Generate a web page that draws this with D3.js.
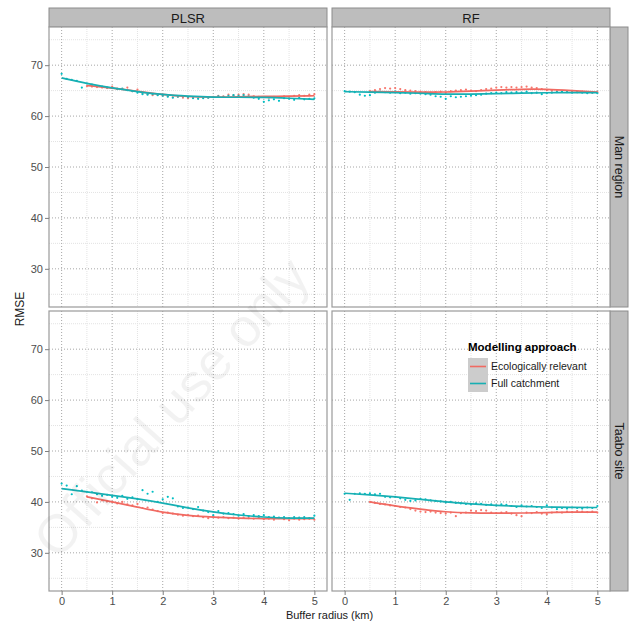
<!DOCTYPE html>
<html><head><meta charset="utf-8">
<script src="https://cdn.jsdelivr.net/npm/d3@7"></script>
<style>body{margin:0;background:#fff}svg{display:block}</style>
</head><body><svg id="c" width="632" height="624"></svg>
<script>
// ---- data ----
const methods = ["PLSR", "RF"];
const regions = ["Man region", "Taabo site"];
const seriesNames = ["Ecologically relevant", "Full catchment"];
const xTicks = [0, 1, 2, 3, 4, 5];
const yTicks = [30, 40, 50, 60, 70];
const xFull = d3.range(0, 51).map(i => i / 10);      // 0 .. 5 by 0.1
const xEco = d3.range(5, 51).map(i => i / 10);       // 0.5 .. 5 by 0.1
const xSmoothFull = d3.range(0, 11).map(i => i / 2);
const xSmoothEco = d3.range(1, 11).map(i => i / 2);

// points: Full catchment
const fullPlsrMan = [68.3,67.3,67.1,66.9,65.6,66.4,66.2,65.9,65.8,65.6,65.5,65.3,65.4,65.1,64.9,64.6,64.3,64.2,64.3,64.1,64.0,63.8,63.6,63.8,63.9,63.7,63.5,63.4,63.5,63.6,63.7,63.9,63.8,64.0,64.1,64.0,64.1,63.9,63.6,63.4,62.8,63.1,63.3,63.0,63.5,63.4,63.2,63.6,63.3,63.4,63.5];
const fullRfMan = [64.9,64.8,64.7,64.2,64.0,64.1,64.6,64.8,64.7,64.6,64.8,64.5,64.6,64.4,64.5,64.4,64.3,64.2,63.9,63.8,63.4,63.9,63.7,63.8,63.9,64.0,64.1,64.2,64.4,64.5,64.6,64.5,64.7,64.6,64.7,64.6,64.8,64.5,64.6,64.3,64.5,64.6,64.7,64.8,64.7,64.6,64.7,64.6,64.5,64.6,64.5];
const fullPlsrTaabo = [43.6,43.2,41.5,43.1,42.2,42.0,41.9,41.5,41.2,41.4,41.0,40.8,41.2,40.6,40.9,40.5,42.3,41.6,42.0,40.0,40.5,41.0,40.7,39.1,38.8,38.9,38.6,39.0,38.3,38.0,37.4,38.2,37.7,37.8,37.6,37.3,37.6,37.2,37.4,37.2,37.4,37.0,37.1,36.9,37.0,36.8,37.0,36.9,37.0,36.8,37.3];
const fullRfTaabo = [41.6,40.4,41.6,41.7,41.6,41.7,41.5,41.6,41.0,40.9,41.0,40.7,40.4,40.2,40.3,40.6,40.5,40.3,40.2,40.1,39.9,40.0,39.8,39.7,39.6,39.5,39.7,39.6,39.4,39.5,39.3,39.5,39.4,39.2,39.0,39.3,39.1,39.2,39.0,38.8,39.3,38.9,38.6,38.8,38.7,38.9,38.8,38.7,38.9,38.8,39.2];
// points: Ecologically relevant
const ecoPlsrMan = [65.9,65.8,65.7,65.6,65.5,65.8,65.4,65.3,65.6,64.9,65.2,64.5,64.3,64.1,64.2,64.0,63.9,63.7,63.8,63.6,63.5,63.6,63.5,63.7,63.6,63.8,64.0,63.9,64.2,64.1,64.2,64.3,64.2,63.9,63.8,63.7,63.6,63.8,63.7,63.9,63.8,64.0,64.1,64.0,64.2,64.3];
const ecoRfMan = [64.9,65.1,65.3,65.5,65.4,65.5,65.3,65.1,65.0,64.9,64.8,64.7,64.6,64.7,64.8,64.6,64.9,65.0,65.1,65.2,65.0,64.9,65.1,65.3,65.4,65.6,65.7,65.6,65.7,65.6,65.7,65.8,65.6,65.5,65.3,65.1,65.0,64.9,64.8,64.9,64.8,64.7,64.8,64.7,64.6,64.7];
const ecoPlsrTaabo = [41.1,40.7,39.9,40.3,40.1,40.0,39.7,40.0,39.5,39.3,39.6,38.8,38.9,38.5,38.2,37.8,37.9,37.7,37.5,37.3,37.4,37.2,37.3,37.0,36.8,37.1,36.9,37.0,36.8,36.9,36.7,36.9,36.8,36.7,36.9,36.6,36.7,36.5,36.8,36.6,36.4,36.7,36.5,36.6,36.7,36.5];
const ecoRfTaabo = [40.0,39.8,39.6,39.5,39.3,39.2,39.0,38.9,38.6,38.3,38.1,38.0,38.1,37.9,37.8,37.7,37.9,37.2,37.8,37.9,38.3,38.2,38.4,38.3,37.9,37.8,37.9,38.0,37.7,37.4,37.2,37.9,37.8,38.0,37.7,37.6,37.9,38.0,37.9,38.1,38.0,38.2,38.1,38.0,38.1,37.9];
// smoothed fits (loess) read at 0.5 km steps
const smFullPlsrMan = [67.5,66.4,65.5,64.8,64.2,63.9,63.7,63.7,63.7,63.5,63.3];
const smFullRfMan = [64.8,64.7,64.6,64.5,64.3,64.3,64.4,64.5,64.6,64.6,64.6];
const smFullPlsrTaabo = [42.6,42.0,41.3,40.6,39.8,38.8,38.0,37.4,37.0,36.8,36.8];
const smFullRfTaabo = [41.7,41.4,41.0,40.5,40.0,39.6,39.3,39.1,39.0,38.9,38.9];
const smEcoPlsrMan = [66.0,65.5,64.9,64.2,63.8,63.7,63.8,63.9,63.9,64.0];
const smEcoRfMan = [64.8,64.8,64.7,64.7,64.9,65.1,65.3,65.3,65.0,64.7];
const smEcoPlsrTaabo = [41.0,40.0,39.0,37.9,37.3,37.0,36.8,36.7,36.7,36.7];
const smEcoRfTaabo = [40.0,39.2,38.6,38.0,37.8,37.8,37.8,37.9,38.0,38.0];

// ---- assemble ----
const panelData = {
  "PLSR|Man region": {full: fullPlsrMan, eco: ecoPlsrMan, smFull: smFullPlsrMan, smEco: smEcoPlsrMan},
  "RF|Man region": {full: fullRfMan, eco: ecoRfMan, smFull: smFullRfMan, smEco: smEcoRfMan},
  "PLSR|Taabo site": {full: fullPlsrTaabo, eco: ecoPlsrTaabo, smFull: smFullPlsrTaabo, smEco: smEcoPlsrTaabo},
  "RF|Taabo site": {full: fullRfTaabo, eco: ecoRfTaabo, smFull: smFullRfTaabo, smEco: smEcoRfTaabo}
};
const colors = {"Ecologically relevant": "#F8766D", "Full catchment": "#00BFC4"};
const lineColors = {"Ecologically relevant": "#F06A62", "Full catchment": "#17AFB3"};

const svg = d3.select("#c");
const font = "'Liberation Sans', Arial, sans-serif";
const colX = [49, 332];
const panelW = 278;
const rowY = [27, 311];
const panelH = 280;
const stripTop = 8;

const x = d3.scaleLinear().domain([-0.25, 5.25]).range([0, panelW]);
const y = d3.scaleLinear().domain([22.5, 77.5]).range([panelH, 0]);
const xMinor = [0.5, 1.5, 2.5, 3.5, 4.5];
const yMinor = [25, 35, 45, 55, 65, 75];

methods.forEach((m, ci) => {
  svg.append("rect").attr("x", colX[ci]).attr("y", stripTop).attr("width", panelW).attr("height", rowY[0] - stripTop)
    .attr("fill", "#bdbdbd").attr("stroke", "#8c8c8c").attr("stroke-width", 1);
  svg.append("text").attr("x", colX[ci] + panelW / 2).attr("y", stripTop + 14.5)
    .attr("text-anchor", "middle").attr("font-family", font).attr("font-size", 13).attr("fill", "#1a1a1a").text(m);
});
regions.forEach((r, ri) => {
  const sx = colX[1] + panelW;
  svg.append("rect").attr("x", sx).attr("y", rowY[ri]).attr("width", 18).attr("height", panelH)
    .attr("fill", "#bdbdbd").attr("stroke", "#8c8c8c").attr("stroke-width", 1);
  svg.append("text").attr("transform", `translate(${sx + 5},${rowY[ri] + panelH / 2}) rotate(90)`)
    .attr("text-anchor", "middle").attr("font-family", font).attr("font-size", 12.5).attr("fill", "#1a1a1a").text(r);
});

regions.forEach((r, ri) => {
  methods.forEach((m, ci) => {
    const g = svg.append("g").attr("transform", `translate(${colX[ci]},${rowY[ri]})`);
    const d = panelData[m + "|" + r];
    g.append("rect").attr("width", panelW).attr("height", panelH).attr("fill", "#fff");
    g.selectAll(".vmin").data(xMinor).enter().append("line")
      .attr("x1", v => x(v)).attr("x2", v => x(v)).attr("y1", 0).attr("y2", panelH)
      .attr("stroke", "#e3e3e3").attr("stroke-width", 1).attr("stroke-dasharray", "1,1");
    g.selectAll(".hmin").data(yMinor).enter().append("line")
      .attr("y1", v => y(v)).attr("y2", v => y(v)).attr("x1", 0).attr("x2", panelW)
      .attr("stroke", "#e3e3e3").attr("stroke-width", 1).attr("stroke-dasharray", "1,1");
    g.selectAll(".vmaj").data(xTicks).enter().append("line")
      .attr("x1", v => x(v)).attr("x2", v => x(v)).attr("y1", 0).attr("y2", panelH)
      .attr("stroke", "#a6a6a6").attr("stroke-width", 1).attr("stroke-dasharray", "1,2");
    g.selectAll(".hmaj").data(yTicks).enter().append("line")
      .attr("y1", v => y(v)).attr("y2", v => y(v)).attr("x1", 0).attr("x2", panelW)
      .attr("stroke", "#a6a6a6").attr("stroke-width", 1).attr("stroke-dasharray", "1,2");

    const series = [
      {name: "Ecologically relevant", xs: xEco, vals: d.eco, sxs: xSmoothEco, svals: d.smEco},
      {name: "Full catchment", xs: xFull, vals: d.full, sxs: xSmoothFull, svals: d.smFull}
    ];
    series.forEach(s => {
      g.selectAll(null).data(s.vals).enter().append("circle")
        .attr("cx", (v, i) => x(s.xs[i])).attr("cy", v => y(v)).attr("r", 1.1)
        .attr("fill", colors[s.name]);
    });
    series.forEach(s => {
      const line = d3.line().x(p => x(p[0])).y(p => y(p[1])).curve(d3.curveBasis);
      g.append("path").datum(s.sxs.map((xv, i) => [xv, s.svals[i]]))
        .attr("d", line).attr("fill", "none").attr("stroke", lineColors[s.name]).attr("stroke-width", 1.7);
    });
    g.append("rect").attr("width", panelW).attr("height", panelH).attr("fill", "none")
      .attr("stroke", "#9a9a9a").attr("stroke-width", 1.2);

    if (ci === 0) {
      const ya = g.append("g").call(d3.axisLeft(y).tickValues(yTicks).tickSize(4).tickPadding(2).tickFormat(d3.format("d")));
      ya.select(".domain").remove();
      ya.selectAll("line").attr("stroke", "#7f7f7f");
      ya.selectAll("text").attr("font-family", font).attr("font-size", 11).attr("fill", "#4d4d4d");
    }
    if (ri === 1) {
      const xa = g.append("g").attr("transform", `translate(0,${panelH})`)
        .call(d3.axisBottom(x).tickValues(xTicks).tickSize(4).tickPadding(2).tickFormat(d3.format("d")));
      xa.select(".domain").remove();
      xa.selectAll("line").attr("stroke", "#7f7f7f");
      xa.selectAll("text").attr("font-family", font).attr("font-size", 11).attr("fill", "#4d4d4d");
    }
  });
});

// watermark (faint, diagonal)
svg.append("text")
  .attr("transform", "translate(185,420) rotate(-48)")
  .attr("text-anchor", "middle")
  .attr("font-family", font).attr("font-size", 54)
  .attr("fill", "#000").attr("fill-opacity", 0.05)
  .text("Official use only");

// axis titles
svg.append("text").attr("x", (colX[0] + colX[1] + panelW) / 2).attr("y", 619)
  .attr("text-anchor", "middle").attr("font-family", font).attr("font-size", 11).attr("fill", "#1a1a1a").text("Buffer radius (km)");
svg.append("text").attr("transform", `translate(24,${(rowY[0] + rowY[1] + panelH) / 2}) rotate(-90)`)
  .attr("text-anchor", "middle").attr("font-family", font).attr("font-size", 12).attr("fill", "#1a1a1a").text("RMSE");

// legend
const lg = svg.append("g").attr("transform", "translate(468,341)");
lg.append("text").attr("x", 0).attr("y", 10).attr("font-family", font).attr("font-size", 11.5)
  .attr("font-weight", "bold").attr("fill", "#000").text("Modelling approach");
seriesNames.forEach((n, i) => {
  const ky = 17 + i * 17;
  lg.append("rect").attr("x", 0).attr("y", ky).attr("width", 20).attr("height", 17).attr("fill", "#cccccc");
  lg.append("line").attr("x1", 2).attr("x2", 18).attr("y1", ky + 8.5).attr("y2", ky + 8.5)
    .attr("stroke", lineColors[n]).attr("stroke-width", 1.6);
  lg.append("text").attr("x", 23).attr("y", ky + 12).attr("font-family", font).attr("font-size", 10.5)
    .attr("fill", "#1a1a1a").text(n);
});
</script></body></html>
